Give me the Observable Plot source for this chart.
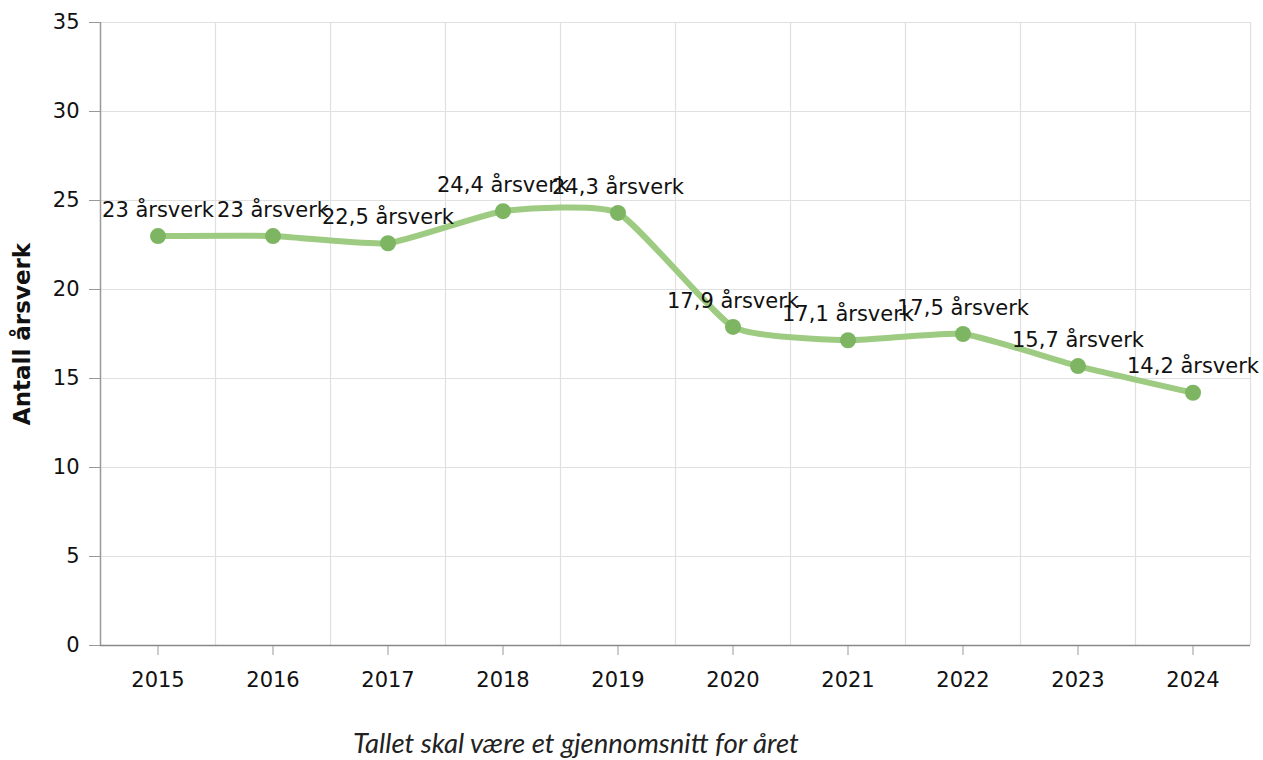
<!DOCTYPE html>
<html>
<head>
<meta charset="utf-8">
<script src="https://cdn.jsdelivr.net/npm/d3@7"></script>
<script src="https://cdn.jsdelivr.net/npm/@observablehq/plot@0.6"></script>
<style>
  body { margin: 0; background: #fff; }
  #chart { position: relative; width: 1263px; height: 760px; overflow: hidden; }
  #caption { position: absolute; left: 353px; top: 726px; font-family: Lato, "Open Sans", sans-serif; font-style: italic; font-size: 27.5px; color: #222; white-space: nowrap; }
</style>
</head>
<body>
<div id="chart"></div>
<script>
const years = [2015, 2016, 2017, 2018, 2019, 2020, 2021, 2022, 2023, 2024];
const values = [23, 23, 22.6, 24.4, 24.3, 17.9, 17.15, 17.5, 15.7, 14.2];
const labels = ["23 årsverk", "23 årsverk", "22,5 årsverk", "24,4 årsverk", "24,3 årsverk", "17,9 årsverk", "17,1 årsverk", "17,5 årsverk", "15,7 årsverk", "14,2 årsverk"];
const yTicks = [0, 5, 10, 15, 20, 25, 30, 35];
const yLabel = "Antall årsverk";
const caption = "Tallet skal være et gjennomsnitt for året";

const data = years.map((y, i) => ({year: y, value: values[i], label: labels[i]}));
const bounds = d3.range(years.length + 1).map(i => years[0] - 0.5 + i);

const plot = Plot.plot({
  width: 1263,
  height: 705,
  marginLeft: 100,
  marginRight: 13,
  marginTop: 22,
  marginBottom: 60,
  style: {fontFamily: "'DejaVu Sans', Verdana, sans-serif", fontSize: "21px", color: "#111", background: "#fff"},
  x: {domain: [years[0] - 0.5, years[years.length - 1] + 0.5], label: null},
  y: {domain: [0, 35], label: null},
  marks: [
    Plot.ruleX(bounds.slice(1), {stroke: "#e0e0e0", strokeWidth: 1.2}),
    Plot.ruleY(yTicks.slice(1), {stroke: "#e0e0e0", strokeWidth: 1.2}),
    Plot.axisY({ticks: yTicks, tickSize: 11, tickPadding: 10, stroke: "#999", label: null, fontSize: 21}),
    Plot.axisX({ticks: years, tickFormat: d => String(d), tickSize: 10, tickPadding: 17, stroke: "#999", label: null, fontSize: 21}),
    Plot.ruleX([years[0] - 0.5], {stroke: "#999", strokeWidth: 1.5}),
    Plot.ruleY([0], {stroke: "#888", strokeWidth: 1.5}),
    Plot.line(data, {x: "year", y: "value", curve: "cardinal", tension: 0.5, stroke: "#9dcb81", strokeWidth: 6}),
    Plot.dot(data, {x: "year", y: "value", r: 8, fill: "#7db562"}),
    Plot.text(data, {x: "year", y: "value", text: "label", dy: -26, fontSize: 21, fill: "#111"}),
    Plot.text([yLabel], {frameAnchor: "left", textAnchor: "middle", dx: -78, rotate: -90, fontWeight: "bold", fontSize: 23, fill: "#111"})
  ]
});
document.getElementById("chart").appendChild(plot);
const cap = document.createElement("div");
cap.id = "caption";
cap.textContent = caption;
document.getElementById("chart").appendChild(cap);
</script>
</body>
</html>
